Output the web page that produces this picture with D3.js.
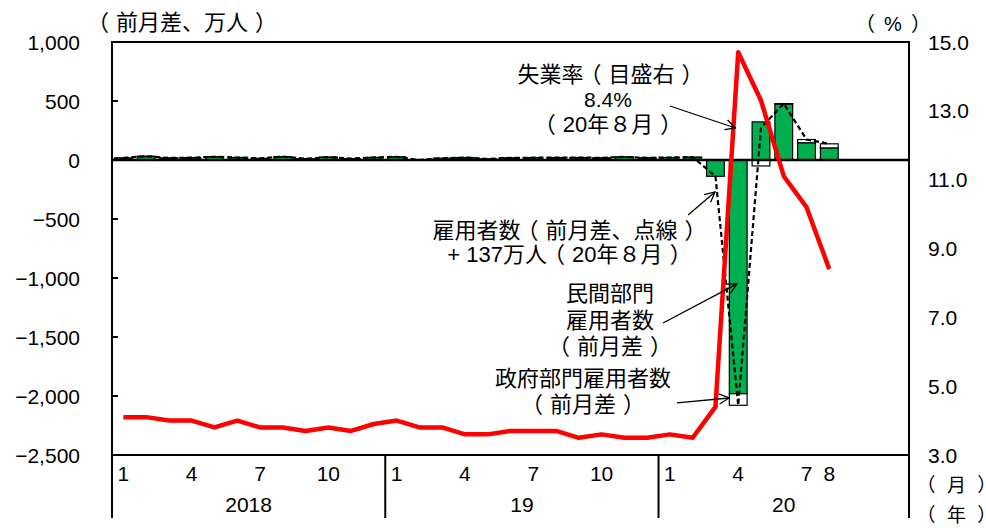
<!DOCTYPE html>
<html lang="ja">
<head>
<meta charset="utf-8">
<script src="https://cdn.jsdelivr.net/npm/d3@7"></script>
<style>
  html, body { margin: 0; padding: 0; background: #fff; }
  svg { display: block; }
  text { font-family: "Liberation Sans", Arial, sans-serif; fill: #000; }
  tspan.jp { font-family: "Noto Sans CJK JP", sans-serif; }
  tspan.paren { font-family: "Noto Sans CJK JP", sans-serif; font-feature-settings: "halt" 1; }
</style>
</head>
<body>
<svg id="chart" width="986" height="528"></svg>
<script>
// ---------- DATA ----------
// 35 monthly slots on the x axis (2018-01 … 2020-11); data available through 2020-08
const slots = d3.range(35).map(i => `${2018 + Math.floor(i / 12)}-${String(i % 12 + 1).padStart(2, "0")}`);
const years = ["2018", "19", "20"];
const monthTickLabels = ["1", "", "", "4", "", "", "7", "", "", "10", "", "",
                         "1", "", "", "4", "", "", "7", "", "", "10", "", "",
                         "1", "", "", "4", "", "", "7", "8", "", "", ""];

// Unemployment rate (%) – right axis
const unemployment = [4.1, 4.1, 4.0, 4.0, 3.8, 4.0, 3.8, 3.8, 3.7, 3.8, 3.7, 3.9,
                      4.0, 3.8, 3.8, 3.6, 3.6, 3.7, 3.7, 3.7, 3.5, 3.6, 3.5, 3.5,
                      3.6, 3.5, 4.4, 14.7, 13.3, 11.1, 10.2, 8.4];
// Total payroll change (万人) – dashed line
const totalEmp = [17.4, 32.4, 17.2, 20.2, 27.1, 21.4, 13.8, 28.7, 10.6, 24.2, 11.5, 22.0,
                  26.9, 0.1, 14.7, 21.0, 8.5, 18.2, 19.4, 20.7, 20.8, 18.5, 26.1, 18.4,
                  21.4, 25.1, -137.3, -2078.7, 272.5, 478.1, 173.4, 137.1];
// Private sector payroll change (万人) – green bars
const privateEmp = [16.4, 28.9, 16.0, 17.7, 26.1, 19.4, 14.2, 23.7, 11.6, 23.8, 10.9, 20.5,
                    25.4, -2.1, 15.7, 18.5, 8.2, 16.8, 18.1, 17.3, 17.6, 16.3, 24.6, 17.8,
                    20.4, 20.7, -138.0, -1980.7, 323.1, 473.7, 146.2, 102.7];
// Government payroll change (万人) – white bars
const govEmp = [1.0, 3.5, 1.2, 2.5, 1.0, 2.0, -0.4, 5.0, -1.0, 0.4, 0.6, 1.5,
                1.5, 2.2, -1.0, 2.5, 0.3, 1.4, 1.3, 3.4, 3.2, 2.2, 1.5, 0.6,
                1.0, 4.4, 0.7, -98.0, -50.6, 4.4, 27.2, 34.4];

const leftTicks = [1000, 500, 0, -500, -1000, -1500, -2000, -2500];
const rightTicks = [15, 13, 11, 9, 7, 5, 3];

// ---------- LAYOUT ----------
const svg = d3.select("#chart");
const L = 112, R = 909, T = 42, B = 455;
const FONT_NUM = 21, FONT_JP = 22;

const x = d3.scaleBand().domain(slots).range([L, R]).paddingInner(0.22).paddingOuter(0.11);
const xs = d3.scaleLinear().domain([0, slots.length]).range([L, R]); // slot-unit position
const yL = d3.scaleLinear().domain([-2500, 1000]).range([B, T]);
const yR = d3.scaleLinear().domain([3, 15]).range([B, T]);
const cx = i => x(slots[i]) + x.bandwidth() / 2;

// arrow marker
svg.append("defs").append("marker")
  .attr("id", "arr").attr("viewBox", "0 0 12 12").attr("refX", 11).attr("refY", 6)
  .attr("markerWidth", 12).attr("markerHeight", 12).attr("markerUnits", "userSpaceOnUse")
  .attr("orient", "auto")
  .append("path").attr("d", "M1,1 L11,6 L1,11").attr("fill", "none").attr("stroke", "#000").attr("stroke-width", 1.3);

// ---------- BARS ----------
const barData = privateEmp.map((p, i) => {
  const g = govEmp[i];
  let pos = 0, neg = 0;
  const segs = [];
  [[p, "#00B050"], [g, "#ffffff"]].forEach(([v, c]) => {
    if (v >= 0) { segs.push({ i, y0: pos, y1: pos + v, c }); pos += v; }
    else { segs.push({ i, y0: neg, y1: neg + v, c }); neg += v; }
  });
  return segs;
}).flat();

svg.append("g").selectAll("rect").data(barData).join("rect")
  .attr("x", d => x(slots[d.i]))
  .attr("width", x.bandwidth())
  .attr("y", d => yL(Math.max(d.y0, d.y1)))
  .attr("height", d => Math.abs(yL(d.y0) - yL(d.y1)))
  .attr("fill", d => d.c)
  .attr("stroke", "#000").attr("stroke-width", 1.2);

// zero line
svg.append("line").attr("x1", L).attr("x2", R).attr("y1", yL(0)).attr("y2", yL(0))
  .attr("stroke", "#000").attr("stroke-width", 2.5);

// total (dashed)
svg.append("path").datum(totalEmp)
  .attr("d", d3.line().x((d, i) => cx(i)).y(d => yL(d)))
  .attr("fill", "none").attr("stroke", "#000").attr("stroke-width", 2.2)
  .attr("stroke-dasharray", "5,3");

// unemployment (red)
svg.append("path").datum(unemployment)
  .attr("d", d3.line().x((d, i) => cx(i)).y(d => yR(d)))
  .attr("fill", "none").attr("stroke", "#ff0000").attr("stroke-width", 4.5)
  .attr("stroke-linejoin", "round");

// ---------- FRAME / AXES ----------
const frame = svg.append("g").attr("stroke", "#000").attr("stroke-width", 2).attr("fill", "none");
frame.append("path").attr("d", `M${L},${518}V${T}H${R}V${518}`);
frame.append("line").attr("x1", L).attr("x2", R).attr("y1", B).attr("y2", B);
[12, 24].forEach(k => frame.append("line").attr("x1", xs(k)).attr("x2", xs(k)).attr("y1", B).attr("y2", 518));

// left ticks (inward) and labels
svg.append("g").selectAll("line").data(leftTicks).join("line")
  .attr("x1", L).attr("x2", L + 6).attr("y1", d => yL(d)).attr("y2", d => yL(d))
  .attr("stroke", "#000").attr("stroke-width", 2);
svg.append("g").selectAll("text").data(leftTicks).join("text")
  .attr("x", 80).attr("y", d => yL(d)).attr("dy", "0.36em")
  .attr("text-anchor", "end").attr("font-size", FONT_NUM)
  .text(d => d3.format(",")(d));

// right labels
svg.append("g").selectAll("text").data(rightTicks).join("text")
  .attr("x", 928).attr("y", d => yR(d)).attr("dy", "0.36em")
  .attr("text-anchor", "start").attr("font-size", FONT_NUM)
  .text(d => d3.format(".1f")(d));

// month labels
svg.append("g").selectAll("text").data(monthTickLabels.map((t, i) => ({ t, i })).filter(d => d.t))
  .join("text")
  .attr("x", d => cx(d.i)).attr("y", 481)
  .attr("text-anchor", "middle").attr("font-size", FONT_NUM)
  .text(d => d.t);

// year labels
svg.append("g").selectAll("text").data(years).join("text")
  .attr("x", (d, k) => k < 2 ? xs(k * 12 + 6) : (xs(24) + R) / 2).attr("y", 512)
  .attr("text-anchor", "middle").attr("font-size", FONT_NUM)
  .text(d => d);

// mixed-script text: CJK runs in Noto Sans CJK JP, the rest in Liberation Sans;
// full-width brackets are set half-width ("halt") with breathing room on both sides
const isJP = ch => /[\u3000-\u30ff\u4e00-\u9fff\uff00-\uffef]/.test(ch);
function txt(s, xx, yy, anchor = "start", size = FONT_JP, gapEm = 0.32) {
  const t = svg.append("text").attr("x", xx).attr("y", yy).attr("text-anchor", anchor).attr("font-size", size);
  const chars = [...s];
  const gap = gapEm * size;
  const runs = [];
  chars.forEach((ch, k) => {
    const paren = ch === "（" || ch === "）";
    const jp = isJP(ch);
    const prevParen = k > 0 && (chars[k - 1] === "（" || chars[k - 1] === "）");
    const dx = (paren && k > 0 ? gap : 0) + (prevParen ? gap : 0);
    const cls = paren ? "paren" : (jp ? "jp" : "lat");
    const last = runs[runs.length - 1];
    if (last && !paren && !dx && last.cls === cls) last.s += ch;
    else runs.push({ cls, s: ch, dx });
  });
  runs.forEach(r => {
    const sp = t.append("tspan").attr("class", r.cls === "lat" ? null : r.cls).text(r.s);
    if (r.dx) sp.attr("dx", r.dx);
  });
  return t;
}

// unit labels
txt("（前月差、万人）", 98, 30);
txt("（%）", 893, 31, "middle", 20, 0.45);
txt("（月）", 926, 492, "start", 19, 0.6);
txt("（年）", 926, 522, "start", 19, 0.6);

// ---------- ANNOTATIONS ----------
txt("失業率（目盛右）", 605, 82, "middle");
txt("8.4%", 608, 107, "middle", FONT_NUM);
txt("（20年８月）", 608, 132, "middle");

txt("雇用者数（前月差、点線）", 564, 238, "middle");
txt("+ 137万人（20年８月）", 564, 262, "middle");

txt("民間部門", 610, 301, "middle");
txt("雇用者数", 610, 328, "middle");
txt("（前月差）", 610, 354, "middle");

txt("政府部門雇用者数", 583, 386, "middle");
txt("（前月差）", 583, 412, "middle");

// arrows anchored in data units (slot position, axis value)
const arrows = [
  { from: [24.5, yR.invert(106)], to: [27.38, yR.invert(128)], axis: "R" },
  { from: [25.3, -466], to: [26.48, -271], axis: "L" },
  { from: [24.2, -1381], to: [27.45, -1050], axis: "L" },
  { from: [24.81, -2059], to: [27.1, -2017], axis: "L" }
];
svg.append("g").selectAll("line").data(arrows).join("line")
  .attr("x1", d => xs(d.from[0])).attr("y1", d => (d.axis === "R" ? yR : yL)(d.from[1]))
  .attr("x2", d => xs(d.to[0])).attr("y2", d => (d.axis === "R" ? yR : yL)(d.to[1]))
  .attr("stroke", "#000").attr("stroke-width", 1.3).attr("marker-end", "url(#arr)");
</script>
</body>
</html>
